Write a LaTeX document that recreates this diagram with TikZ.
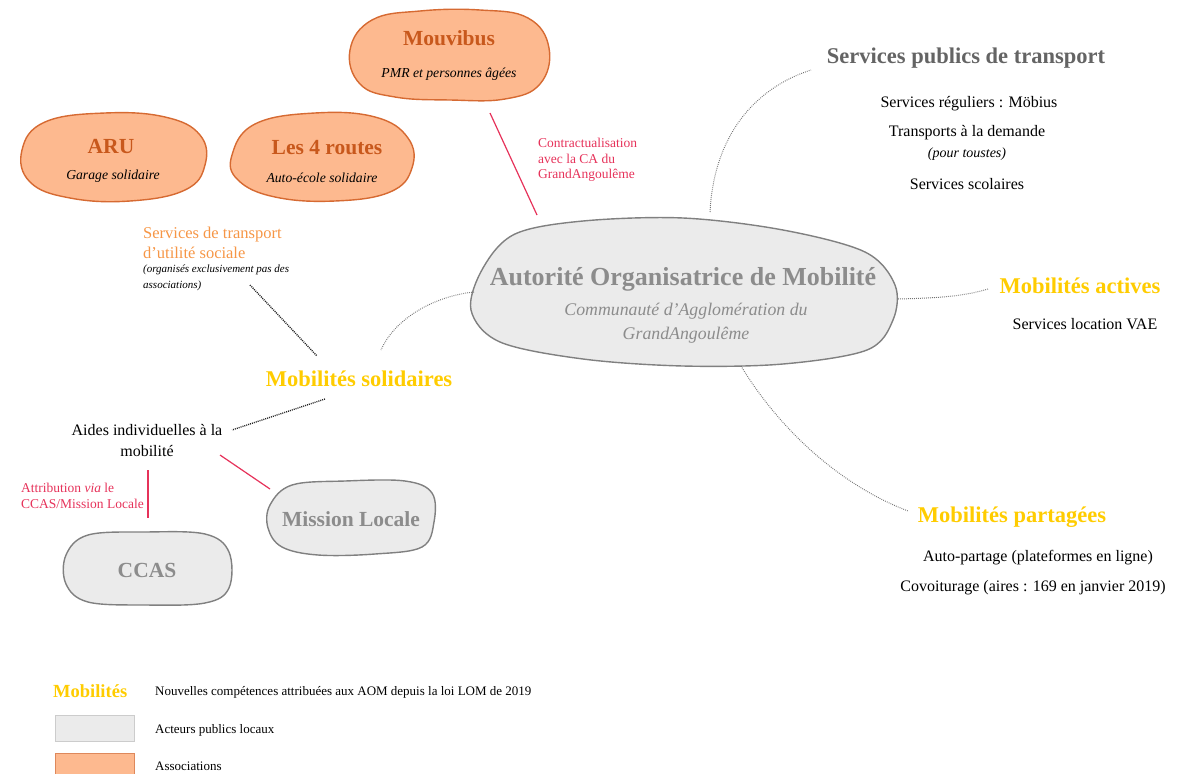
\documentclass[tikz,border=0pt]{standalone}
\usepackage{fontspec}
\setmainfont{Liberation Serif}
\definecolor{assocfill}{RGB}{253,185,143}
\definecolor{assocline}{RGB}{214,106,50}
\definecolor{assoctext}{RGB}{200,88,28}
\definecolor{socialtext}{RGB}{246,150,70}
\definecolor{publicfill}{RGB}{235,235,235}
\definecolor{publicline}{RGB}{128,128,128}
\definecolor{publictext}{RGB}{140,140,140}
\definecolor{headgray}{RGB}{100,100,100}
\definecolor{lomyellow}{RGB}{255,204,0}
\definecolor{linkred}{RGB}{230,50,90}
\newcommand\fsz[2]{\fontsize{#1}{#2}\selectfont}
\tikzset{
  assoc/.style={draw=assocline, fill=assocfill, line width=1.4pt},
  public/.style={draw=publicline, fill=publicfill, line width=1.4pt},
  lbl/.style={inner sep=0pt, align=center},
  assoctitle/.style={lbl, text=assoctext, font=\fsz{21.5}{24}\bfseries},
  assocsub/.style={lbl, text=black, font=\fsz{13.7}{16}\itshape},
  publictitle/.style={lbl, text=publictext, font=\fsz{21.5}{24}\bfseries},
  lomtitle/.style={lbl, text=lomyellow, font=\fsz{22.5}{26}\bfseries},
  body/.style={lbl, text=black, font=\fsz{16}{21}},
  redlabel/.style={inner sep=0pt, align=left, text=linkred, font=\fsz{13.5}{15.5}},
  legendtext/.style={inner sep=0pt, anchor=west, text=black, font=\fsz{13}{15}},
  dotgray/.style={draw=black!55, line width=1pt, dash pattern=on 0.8pt off 1.2pt},
  dotblack/.style={draw=black!85, line width=1.4pt, dash pattern=on 1pt off 1pt},
  redlink/.style={draw=linkred, line width=1.2pt},
}
\begin{document}
\begin{tikzpicture}[x=1pt,y=-1pt]
\useasboundingbox (0,0) rectangle (1192,774);

% ---------- associations ----------
\draw[assoc] plot[smooth cycle, tension=0.7] coordinates {
  (350,50) (372,20) (420,11) (480,10) (528,18) (549,48) (540,84) (505,99) (450,100) (395,97) (360,84)};
\node[assoctitle] (mouvibus) at (449,38) {Mouvibus};
\node[assocsub] (mouvibussub) at (449,74) {PMR et personnes âgées};

\draw[assoc] plot[smooth cycle, tension=0.7] coordinates {
  (22,150) (45,122) (105,113) (165,117) (200,135) (205,165) (185,190) (130,201) (70,198) (30,182)};
\node[assoctitle] (aru) at (111,146) {ARU};
\node[assocsub] (arusub) at (113,176) {Garage solidaire};

\draw[assoc] plot[smooth cycle, tension=0.7] coordinates {
  (232,155) (255,124) (315,113) (375,117) (408,138) (412,168) (390,192) (335,201) (275,197) (238,180)};
\node[assoctitle] (routes) at (327,148) {Les 4 routes};
\node[assocsub] (routessub) at (322,178) {Auto-école solidaire};

% ---------- autorité organisatrice ----------
\draw[public] plot[smooth cycle, tension=0.55] coordinates {
  (471,310) (483,268) (515,234) (583,221) (683,218) (783,230) (865,252) (895,285) (893,320) (867,350)
  (783,364) (683,366) (583,359) (500,342)};
\node[lbl, text=publictext, font=\fsz{26}{30}\bfseries] (aom) at (683,279) {Autorité Organisatrice de Mobilité};
\node[lbl, text=publictext, font=\fsz{17.8}{24}\itshape] (aomsub) at (686,323) {Communauté d’Agglomération du\\GrandAngoulême};

% ---------- mission locale & CCAS ----------
\draw[public] plot[smooth cycle, tension=0.6] coordinates {
  (270,505) (292,485) (345,481) (405,481) (432,493) (434,522) (422,547) (375,554) (318,555) (282,547) (268,528)};
\node[publictitle] (missionlocale) at (351,519) {Mission Locale};

\draw[public] plot[smooth cycle, tension=0.6] coordinates {
  (66,555) (88,535) (145,532) (205,534) (229,552) (229,588) (205,603) (145,605) (88,602) (66,584)};
\node[publictitle] (ccas) at (147,570) {CCAS};

% ---------- services publics de transport ----------
\node[lbl, text=headgray, font=\fsz{22.5}{26}\bfseries] (spt) at (966,58) {Services publics de transport};
\node[body] (reguliers) at (969,104) {Services réguliers : Möbius};
\node[body] (tad) at (967,133) {Transports à la demande};
\node[lbl, font=\fsz{14}{16}\itshape] (tadsub) at (967,154) {(pour toustes)};
\node[body] (scolaires) at (967,184) {Services scolaires};

% ---------- mobilités actives / partagées ----------
\node[lomtitle] (actives) at (1080,286) {Mobilités actives};
\node[body] (vae) at (1085,324) {Services location VAE};
\node[lomtitle] (partagees) at (1012,517) {Mobilités partagées};
\node[body] (autopartage) at (1038,558) {Auto-partage (plateformes en ligne)};
\node[body] (covoit) at (1033,588) {Covoiturage (aires : 169 en janvier 2019)};

% ---------- mobilités solidaires ----------
\node[lomtitle] (solidaires) at (359,379) {Mobilités solidaires};
\node[inner sep=0pt, align=left, anchor=north west, text=socialtext, font=\fsz{16.5}{20}] (tus) at (143,227) {Services de transport\\d’utilité sociale};
\node[inner sep=0pt, align=left, anchor=north west, font=\fsz{11}{16}\itshape] (tussub) at (143,265) {(organisés exclusivement pas des\\associations)};
\node[body] (aides) at (147,441) {Aides individuelles à la\\mobilité};

% ---------- red labels ----------
\node[redlabel, anchor=north west] (contract) at (538,138) {Contractualisation\\avec la CA du\\GrandAngoulême};
\node[redlabel, anchor=north west] (attrib) at (21,483) {Attribution \textit{via} le\\CCAS/Mission Locale};

% ---------- connector ends ----------
\coordinate (mouvA) at (490,113);
\coordinate (mouvB) at (537,215);
\coordinate (aomTop) at (710,212);
\coordinate (sptEnd) at (811,70);
\coordinate (aomRight) at (898,299);
\coordinate (activesEnd) at (988,289);
\coordinate (aomBottom) at (741,366);
\coordinate (partageesEnd) at (908,511);
\coordinate (aomLeft) at (474,292);
\coordinate (solidTop) at (381,350);
\coordinate (tusEnd) at (250,285);
\coordinate (solidLeftTop) at (317,356);
\coordinate (solidBottom) at (325,399);
\coordinate (aidesRight) at (232,430);
\coordinate (aidesBottomR) at (220,455);
\coordinate (missionEnd) at (270,489);
\coordinate (aidesBottom) at (148,470);
\coordinate (ccasTop) at (148,518);

% ---------- connectors ----------
\draw[redlink] (mouvA) -- (mouvB);
\draw[dotgray] (aomTop) .. controls (714,135) and (755,88) .. (sptEnd);
\draw[dotgray] (aomRight) .. controls (940,298) and (965,296) .. (activesEnd);
\draw[dotgray] (aomBottom) .. controls (780,430) and (840,485) .. (partageesEnd);
\draw[dotgray] (aomLeft) .. controls (435,296) and (395,318) .. (solidTop);
\draw[dotblack] (tusEnd) -- (solidLeftTop);
\draw[dotblack] (solidBottom) -- (aidesRight);
\draw[redlink] (aidesBottomR) -- (missionEnd);
\draw[redlink] (aidesBottom) -- (ccasTop);

% ---------- legend ----------
\node[lbl, anchor=west, text=lomyellow, font=\fsz{18.5}{20}\bfseries] (legmob) at (53,691) {Mobilités};
\node[legendtext] (legmobtext) at (155,692) {Nouvelles compétences attribuées aux AOM depuis la loi LOM de 2019};
\node[draw=black!20, fill=publicfill, line width=1pt, minimum width=79pt, minimum height=26pt, inner sep=0pt] (legpub) at (95,728.5) {};
\node[legendtext] (legpubtext) at (155,730) {Acteurs publics locaux};
\node[draw=assocline!80, fill=assocfill, line width=1pt, minimum width=79pt, minimum height=30pt, inner sep=0pt] (legassoc) at (95,768) {};
\node[legendtext] (legassoctext) at (155,766) {Associations};
\end{tikzpicture}
\end{document}
